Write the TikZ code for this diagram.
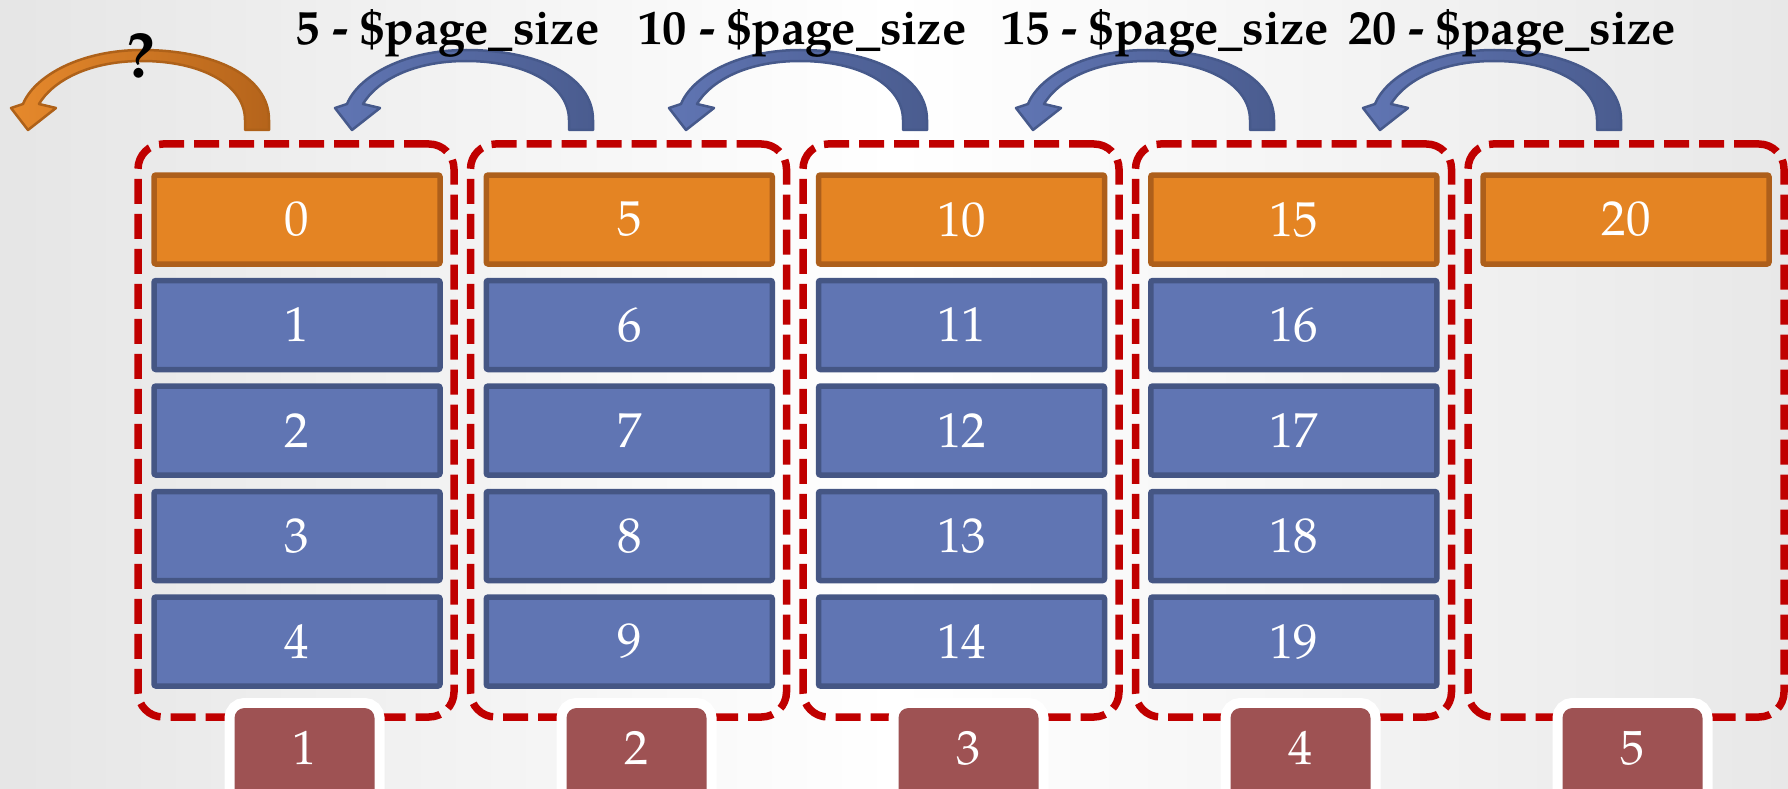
\documentclass[tikz,border=0pt]{standalone}
\usepackage{fontspec}
\setmainfont{TeX Gyre Pagella}
\definecolor{dashred}{HTML}{C00000}
\definecolor{orfill}{HTML}{E48423}
\definecolor{ordraw}{HTML}{AD5F1B}
\definecolor{blfill}{HTML}{6075B3}
\definecolor{bldraw}{HTML}{455684}
\definecolor{lblfill}{HTML}{9E5253}
\definecolor{arbluedraw}{HTML}{46598B}
\definecolor{arbluehead}{HTML}{6075B3}
\definecolor{arbluetail}{HTML}{4A5C8F}
\definecolor{arordraw}{HTML}{AE6119}
\definecolor{arorhead}{HTML}{E6892C}
\definecolor{arortail}{HTML}{B5641B}
\newcommand{\pagearrow}[4]{%
  \begin{scope}[shift={(#1,0)}]
    \path[draw=#2, line width=2.5pt, line join=round, left color=#3, right color=#4]
      (12,130) -- (12,120) .. controls (12,75) and (-45,50) .. (-115,50)
      .. controls (-175,50) and (-222,75) .. (-234,104)
      -- (-246,108) -- (-229,130) -- (-201,108) -- (-218,104)
      .. controls (-205,82) and (-170,61) .. (-115,61)
      .. controls (-55,61) and (-12,85) .. (-12,120) -- (-12,130) -- cycle;
  \end{scope}}
\begin{document}
\begin{tikzpicture}[x=1pt,y=-1pt,
  numbox/.style={draw, line width=5.5pt, rounded corners=2pt, minimum width=286pt, minimum height=89pt, inner sep=0pt, text=white, font=\fontsize{49}{52}\selectfont},
  headbox/.style={numbox, fill=orfill, draw=ordraw},
  bodybox/.style={numbox, fill=blfill, draw=bldraw},
  pagegroup/.style={draw=dashred, line width=7.5pt, dash pattern=on 25pt off 10pt, rounded corners=25pt, minimum width=316pt, minimum height=573pt, inner sep=0pt},
  pagelabel/.style={fill=lblfill, rounded corners=10pt, minimum width=140pt, minimum height=100pt, inner sep=0pt, text=white, font=\fontsize{48}{50}\selectfont, text height=33pt, text depth=21pt, preaction={draw=white, line width=20pt}},
  toptext/.style={font=\bfseries\fontsize{48.5}{52}\selectfont, anchor=base, inner sep=0pt},
]
\useasboundingbox (0,0) rectangle (1788,789);
\shade[left color=black!10, right color=black!9, middle color=white] (0,0) rectangle (1788,789);
% curved arrows
\pagearrow{257}{arordraw}{arorhead}{arortail}
\pagearrow{581}{arbluedraw}{arbluehead}{arbluetail}
\pagearrow{915}{arbluedraw}{arbluehead}{arbluetail}
\pagearrow{1262}{arbluedraw}{arbluehead}{arbluetail}
\pagearrow{1609}{arbluedraw}{arbluehead}{arbluetail}
% top texts
\node[font=\bfseries\fontsize{64}{66}\selectfont, anchor=base, inner sep=0pt] (q) at (141,78) {?};
\node[toptext] (t1) at (447.5,45) {5 - \$page\_size};
\node[toptext] (t2) at (802.5,45) {10 - \$page\_size};
\node[toptext] (t3) at (1165,45) {15 - \$page\_size};
\node[toptext] (t4) at (1512,45) {20 - \$page\_size};
% dashed page groups
\foreach \i in {0,...,4}{
  \node[pagegroup] (g\i) at ({296+332.5*\i},430.5) {};
}
% head (orange) boxes
\foreach \i in {0,...,4}{
  \pgfmathtruncatemacro\n{5*\i}
  \node[headbox] (h\i) at ({297+332.25*\i},219.5) {\n};
}
% body (blue) boxes
\foreach \i in {0,...,3}{
  \foreach \k in {1,...,4}{
    \pgfmathtruncatemacro\n{5*\i+\k}
    \node[bodybox] (b\i\k) at ({297+332.25*\i},{219.5+105.5*\k}) {\n};
  }
}
% page labels
\foreach \i in {1,...,5}{
  \node[pagelabel] (p\i) at ({304.5+332*(\i-1)},758) {\i};
}
\end{tikzpicture}
\end{document}
